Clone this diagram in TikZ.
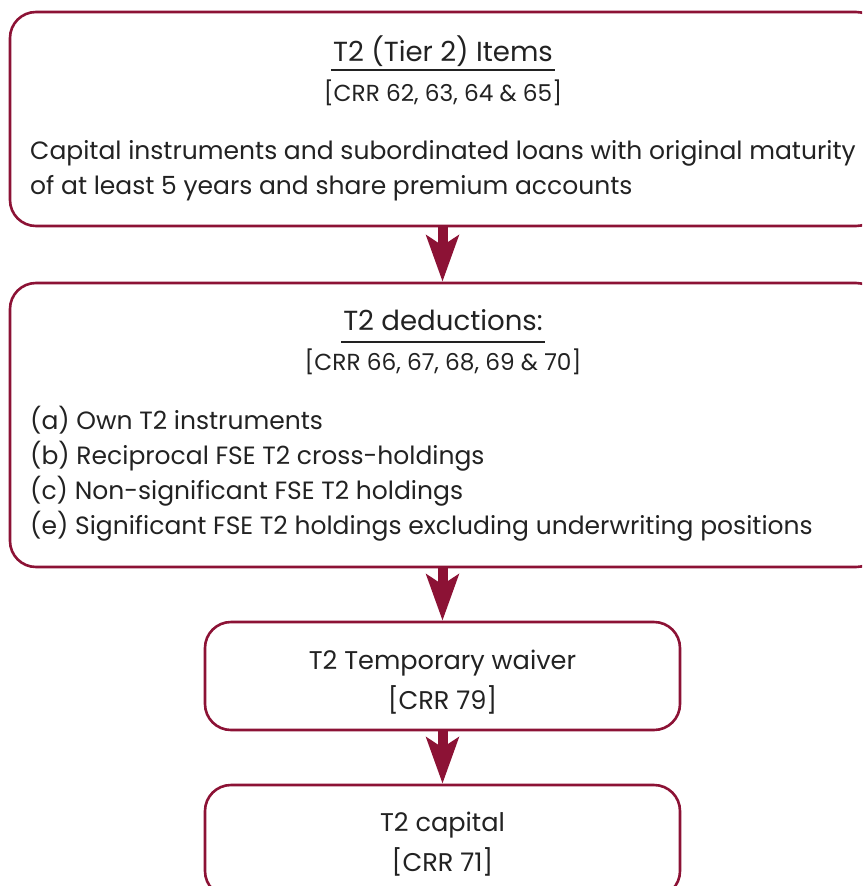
\documentclass[tikz,border=0pt]{standalone}
\usepackage{fontspec}
\setmainfont{Poppins}
\usepackage{xcolor}
\usetikzlibrary{arrows.meta,positioning,calc}

\definecolor{wine}{HTML}{8C1235}
\definecolor{ink}{HTML}{222222}

\begin{document}
\begin{tikzpicture}[x=1pt,y=-1pt,
    box/.style={rectangle, rounded corners=26pt, draw=wine, line width=2.6pt},
    head/.style={anchor=base, inner sep=2pt, text=ink, font=\fontsize{27.6}{32}\selectfont},
    ref/.style={anchor=base, inner sep=0pt, text=ink, font=\fontsize{23.2}{28}\selectfont},
    line/.style={anchor=base west, inner sep=0pt, text=ink, font=\fontsize{25}{30}\selectfont},
    mid/.style={anchor=base, inner sep=0pt, text=ink, font=\fontsize{25.6}{30}\selectfont},
    bigarrow/.style={draw=wine, line width=10pt, -{Stealth[length=46pt, width=32pt, inset=10pt]}}]
    \clip (0,0) rectangle (862,886);

    % boxes
    \node (items) [box, minimum width=872pt, minimum height=214pt] at (446,119) {};
    \node (deduct) [box, minimum width=872pt, minimum height=284pt] at (446,425) {};
    \node (waiver) [box, minimum width=475pt, minimum height=108pt] at (442.5,676) {};
    \node (capital) [box, minimum width=475pt, minimum height=112pt] at (442.5,841) {};

    % first box
    \node (itemstitle) [head] at (443,61) {T2 (Tier 2) Items};
    \draw [ink, line width=1.6pt] ([yshift=-9pt]itemstitle.base west) -- ([yshift=-9pt]itemstitle.base east);
    \node (itemsref) [ref] at (443,101) {[CRR 62, 63, 64 \& 65]};
    \node (itemsa) [line] at (30,159) {Capital instruments and subordinated loans with original maturity};
    \node (itemsb) [line] at (30,194) {of at least 5 years and share premium accounts};

    % second box
    \node (deducttitle) [head] at (443,330) {T2 deductions:};
    \draw [ink, line width=1.6pt] ([yshift=-12pt]deducttitle.base west) -- ([yshift=-12pt]deducttitle.base east);
    \node (deductref) [ref] at (443,370) {[CRR 66, 67, 68, 69 \& 70]};
    \node (deducta) [line] at (30,429) {(a) Own T2 instruments};
    \node (deductb) [line] at (30,464) {(b) Reciprocal FSE T2 cross-holdings};
    \node (deductc) [line] at (30,499) {(c) Non-significant FSE T2 holdings};
    \node (deducte) [line] at (30,534) {(e) Significant FSE T2 holdings excluding underwriting positions};

    % third and fourth box
    \node (waivertitle) [mid] at (442.5,669) {T2 Temporary waiver};
    \node (waiverref) [mid] at (442.5,709) {[CRR 79]};
    \node (capitaltitle) [mid] at (442.5,831) {T2 capital};
    \node (capitalref) [mid] at (442.5,871) {[CRR 71]};

    \draw [bigarrow] (waiver.north |- items.south) -- (waiver.north |- deduct.north);
    \draw [bigarrow] (waiver.north |- deduct.south) -- (waiver.north);
    \draw [bigarrow] (waiver.south) -- (capital.north);
\end{tikzpicture}
\end{document}
